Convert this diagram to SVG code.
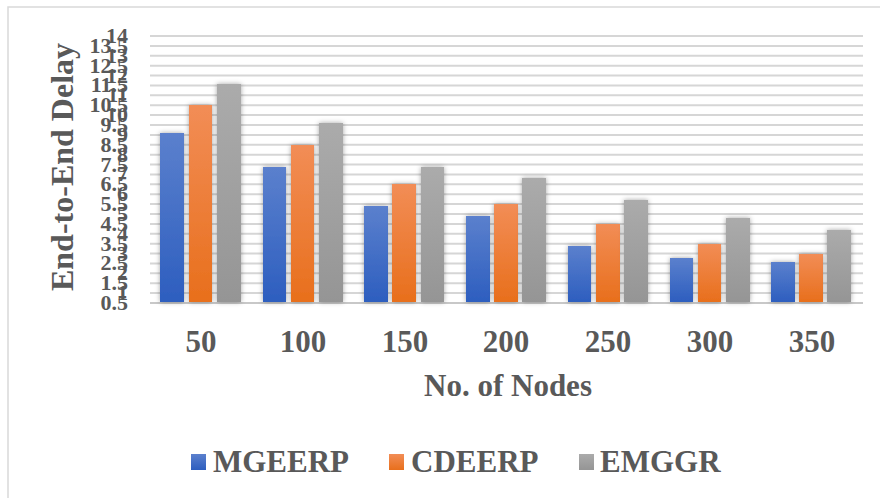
<svg xmlns="http://www.w3.org/2000/svg" width="880" height="498" viewBox="0 0 880 498">
<style>
.t{font-family:"Liberation Serif","Times New Roman",serif;font-weight:bold;fill:#595959}
.yl{font-size:22px;text-anchor:end}
.xl{font-size:31px;text-anchor:middle}
.lg{font-size:31px}
.grid line{stroke:#d6d6d6;stroke-width:2}
.b{fill:url(#gb)}.o{fill:url(#go)}.g{fill:url(#gg)}
</style>
<defs>
<linearGradient id="gb" x1="0" y1="0" x2="0" y2="1"><stop offset="0" stop-color="#5b80cd"/><stop offset="1" stop-color="#2d5ebf"/></linearGradient>
<linearGradient id="go" x1="0" y1="0" x2="0" y2="1"><stop offset="0" stop-color="#f28d56"/><stop offset="1" stop-color="#e86f1c"/></linearGradient>
<linearGradient id="gg" x1="0" y1="0" x2="0" y2="1"><stop offset="0" stop-color="#ababab"/><stop offset="1" stop-color="#959595"/></linearGradient>
<filter id="sh" x="-30%" y="-10%" width="160%" height="120%"><feDropShadow dx="0" dy="0" stdDeviation="2.5" flood-color="#000" flood-opacity="0.35"/></filter>
</defs>
<rect width="880" height="498" fill="#fff"/>
<g id="frame" fill="none" stroke="#d9d9d9" stroke-width="1.5"><path d="M8 498V7H880"/></g>
<g id="gridlines" class="grid">
<line x1="150" x2="863" y1="36" y2="36"/><line x1="150" x2="863" y1="45.9" y2="45.9"/><line x1="150" x2="863" y1="55.8" y2="55.8"/><line x1="150" x2="863" y1="65.7" y2="65.7"/><line x1="150" x2="863" y1="75.6" y2="75.6"/><line x1="150" x2="863" y1="85.4" y2="85.4"/><line x1="150" x2="863" y1="95.3" y2="95.3"/><line x1="150" x2="863" y1="105.2" y2="105.2"/><line x1="150" x2="863" y1="115.1" y2="115.1"/><line x1="150" x2="863" y1="125" y2="125"/><line x1="150" x2="863" y1="134.9" y2="134.9"/><line x1="150" x2="863" y1="144.8" y2="144.8"/><line x1="150" x2="863" y1="154.7" y2="154.7"/><line x1="150" x2="863" y1="164.6" y2="164.6"/><line x1="150" x2="863" y1="174.4" y2="174.4"/><line x1="150" x2="863" y1="184.3" y2="184.3"/><line x1="150" x2="863" y1="194.2" y2="194.2"/><line x1="150" x2="863" y1="204.1" y2="204.1"/><line x1="150" x2="863" y1="214" y2="214"/><line x1="150" x2="863" y1="223.9" y2="223.9"/><line x1="150" x2="863" y1="233.8" y2="233.8"/><line x1="150" x2="863" y1="243.7" y2="243.7"/><line x1="150" x2="863" y1="253.6" y2="253.6"/><line x1="150" x2="863" y1="263.4" y2="263.4"/><line x1="150" x2="863" y1="273.3" y2="273.3"/><line x1="150" x2="863" y1="283.2" y2="283.2"/><line x1="150" x2="863" y1="293.1" y2="293.1"/><line x1="150" x2="863" y1="303" y2="303" style="stroke:#c8c8c8"/>
</g>
<g id="y-labels" class="t yl">
<text x="128" y="310">0.5</text><text x="128" y="300.1">1</text><text x="128" y="290.2">1.5</text><text x="128" y="280.3">2</text><text x="128" y="270.4">2.5</text><text x="128" y="260.6">3</text><text x="128" y="250.7">3.5</text><text x="128" y="240.8">4</text><text x="128" y="230.9">4.5</text><text x="128" y="221">5</text><text x="128" y="211.1">5.5</text><text x="128" y="201.2">6</text><text x="128" y="191.3">6.5</text><text x="128" y="181.4">7</text><text x="128" y="171.6">7.5</text><text x="128" y="161.7">8</text><text x="128" y="151.8">8.5</text><text x="128" y="141.9">9</text><text x="128" y="132">9.5</text><text x="128" y="122.1">10</text><text x="128" y="112.2">10.5</text><text x="128" y="102.3">11</text><text x="128" y="92.4">11.5</text><text x="128" y="82.6">12</text><text x="128" y="72.7">12.5</text><text x="128" y="62.8">13</text><text x="128" y="52.9">13.5</text><text x="128" y="43">14</text>
</g>
<text id="y-title" class="t" font-size="32" text-anchor="middle" transform="translate(73 167) rotate(-90)">End-to-End Delay</text>
<g id="series-MGEERP" class="b" filter="url(#sh)">
<rect x="160" y="133" width="24" height="169"/><rect x="263" y="167" width="23" height="135"/><rect x="364" y="206" width="24" height="96"/><rect x="466" y="216" width="24" height="86"/><rect x="568" y="246" width="23" height="56"/><rect x="670" y="258" width="23" height="44"/><rect x="771" y="262" width="24" height="40"/>
</g>
<g id="series-CDEERP" class="o" filter="url(#sh)">
<rect x="189" y="105" width="23" height="197"/><rect x="291" y="145" width="23" height="157"/><rect x="392" y="184" width="24" height="118"/><rect x="494" y="204" width="24" height="98"/><rect x="596" y="224" width="24" height="78"/><rect x="698" y="244" width="23" height="58"/><rect x="799" y="254" width="24" height="48"/>
</g>
<g id="series-EMGGR" class="g" filter="url(#sh)">
<rect x="217" y="84" width="24" height="218"/><rect x="319" y="123" width="24" height="179"/><rect x="421" y="167" width="23" height="135"/><rect x="522" y="178" width="24" height="124"/><rect x="624" y="200" width="24" height="102"/><rect x="726" y="218" width="24" height="84"/><rect x="827" y="230" width="24" height="72"/>
</g>
<g id="x-labels" class="t xl">
<text x="201" y="352">50</text><text x="303" y="352">100</text><text x="405" y="352">150</text><text x="506" y="352">200</text><text x="608" y="352">250</text><text x="710" y="352">300</text><text x="812" y="352">350</text>
</g>
<text id="x-title" class="t" font-size="31" text-anchor="middle" x="508" y="396">No. of Nodes</text>
<g id="legend">
<g id="legend-MGEERP"><rect class="b" x="191" y="454" width="15" height="16"/><text class="t lg" x="213" y="472">MGEERP</text></g>
<g id="legend-CDEERP"><rect class="o" x="389" y="454" width="15" height="16"/><text class="t lg" x="411" y="472">CDEERP</text></g>
<g id="legend-EMGGR"><rect class="g" x="579" y="454" width="15" height="16"/><text class="t lg" x="600" y="472">EMGGR</text></g>
</g>
</svg>
